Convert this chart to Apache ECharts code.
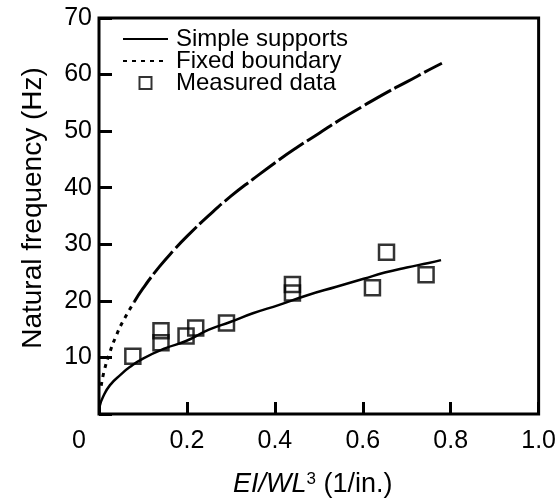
<!DOCTYPE html>
<html>
<head>
<meta charset="utf-8">
<script src="https://cdn.jsdelivr.net/npm/echarts@6/dist/echarts.min.js"></script>
<style>
  html, body { margin: 0; padding: 0; background: #fff; }
  #container { width: 559px; height: 503px; }
</style>
</head>
<body>
<div id="container"></div>
<script>
// values (x = EI/WL^3, y = natural frequency)
var simpleX = [0.002, 0.009, 0.025, 0.05, 0.07, 0.1, 0.15, 0.198, 0.25, 0.3, 0.35, 0.41, 0.474, 0.54, 0.602, 0.65, 0.7, 0.75, 0.778];
var simpleY = [1.5, 3.0, 5.1, 7.0, 8.3, 9.8, 11.6, 12.9, 14.9, 16.3, 17.8, 19.3, 21.0, 22.5, 23.9, 25.0, 25.9, 26.7, 27.2];

// fixed boundary curve: dotted start, then long dashes
var fixedStartX = [0.005, 0.012, 0.025, 0.04, 0.054, 0.08];
var fixedStartY = [5.0, 7.7, 11.0, 14.0, 16.3, 19.8];
var fixedRestX = [0.08, 0.1, 0.137, 0.173, 0.2, 0.25, 0.3, 0.35, 0.409, 0.45, 0.5, 0.55, 0.6, 0.656, 0.7, 0.75, 0.78];
var fixedRestY = [19.8, 22.2, 26.0, 29.2, 31.4, 35.1, 38.5, 41.5, 44.9, 47.1, 49.6, 52.1, 54.4, 56.9, 58.7, 60.8, 62.0];

var measuredX = [0.077, 0.141, 0.141, 0.198, 0.22, 0.29, 0.44, 0.44, 0.622, 0.654, 0.744];
var measuredY = [10.2, 14.7, 12.6, 13.8, 15.2, 16.1, 22.9, 21.4, 22.3, 28.6, 24.6];

var xTicks = [0, 0.2, 0.4, 0.6, 0.8, 1.0];
var yTicks = [10, 20, 30, 40, 50, 60, 70];

function pairs(xs, ys) {
  return xs.map(function (x, i) { return [x, ys[i]]; });
}

var font = '"Liberation Sans", Arial, sans-serif';
var squareIcon = 'path://M0,0L10,0L10,10L0,10Z';

var dom = document.getElementById('container');
var chart = echarts.init(dom, null, { renderer: 'canvas' });

chart.setOption({
  animation: false,
  backgroundColor: '#fff',
  textStyle: { fontFamily: font, color: '#000' },
  grid: {
    left: 99, right: 14, top: 18, bottom: 89,
    show: true, borderColor: '#000', borderWidth: 3, backgroundColor: 'transparent'
  },
  legend: {
    orient: 'vertical',
    left: 117, top: 22,
    itemWidth: 45, itemHeight: 12,
    itemGap: -2,
    symbolKeepAspect: true,
    selectedMode: false,
    data: [
      { name: 'Simple supports' },
      { name: 'Fixed boundary' },
      { name: 'Measured data', icon: squareIcon }
    ],
    textStyle: { fontFamily: font, fontSize: 24, color: '#000', lineHeight: 21, padding: [0, 0, 0, 3] }
  },
  xAxis: {
    type: 'value', min: 0, max: 1, interval: 0.2,
    name: '{i|EI/WL}{s|3}{n| (1/in.)}',
    nameLocation: 'middle', nameGap: 57,
    nameTextStyle: {
      color: '#000', padding: [0, 12, 0, 0],
      rich: {
        i: { fontFamily: font, fontSize: 27, fontStyle: 'italic', color: '#000' },
        s: { fontFamily: font, fontSize: 17, verticalAlign: 'top', color: '#000' },
        n: { fontFamily: font, fontSize: 27, color: '#000' }
      }
    },
    axisLine: { show: false },
    axisTick: { show: true, inside: true, length: 12, lineStyle: { color: '#000', width: 3 } },
    splitLine: { show: false },
    axisLabel: {
      margin: 15, fontSize: 25, color: '#000', fontFamily: font,
      formatter: function (v) {
        if (v === 0) return '{o|0}';
        return xTicks.indexOf(v) >= 0 ? v.toFixed(1) : '';
      },
      rich: { o: { fontSize: 25, fontFamily: font, color: '#000', padding: [0, 40, 0, 0] } }
    }
  },
  yAxis: {
    type: 'value', min: 0, max: 70, interval: 10,
    name: 'Natural frequency (Hz)',
    nameLocation: 'middle', nameGap: 52, nameRotate: 90,
    nameTextStyle: { fontSize: 28, color: '#000', fontFamily: font, padding: [0, 0, 0, 16] },
    axisLine: { show: false },
    axisTick: { show: true, inside: true, length: 13, lineStyle: { color: '#000', width: 3 } },
    splitLine: { show: false },
    axisLabel: {
      margin: 7, fontSize: 25, color: '#000', fontFamily: font,
      padding: [5, 0, 0, 0],
      formatter: function (v) { return yTicks.indexOf(v) >= 0 ? String(v) : ''; }
    }
  },
  series: [
    {
      name: 'Simple supports', type: 'line', symbol: 'none', smooth: true,
      data: pairs(simpleX, simpleY),
      itemStyle: { color: 'rgba(0,0,0,0)' },
      lineStyle: { color: '#000', width: 2.5 }
    },
    {
      name: 'Fixed boundary', type: 'line', symbol: 'none', smooth: true,
      data: pairs(fixedStartX, fixedStartY),
      itemStyle: { color: 'rgba(0,0,0,0)' },
      lineStyle: { color: '#000', width: 3, type: [4, 5] }
    },
    {
      name: 'Fixed boundary', type: 'line', symbol: 'none', smooth: true,
      data: pairs(fixedRestX, fixedRestY),
      itemStyle: { color: 'rgba(0,0,0,0)' },
      lineStyle: { color: '#000', width: 3, type: [30, 4] }
    },
    {
      name: 'Measured data', type: 'scatter', symbol: 'rect', symbolSize: 15,
      data: pairs(measuredX, measuredY),
      itemStyle: { color: 'rgba(255,255,255,0)', borderColor: '#000', borderWidth: 2.5 }
    }
  ]
});
</script>
</body>
</html>
